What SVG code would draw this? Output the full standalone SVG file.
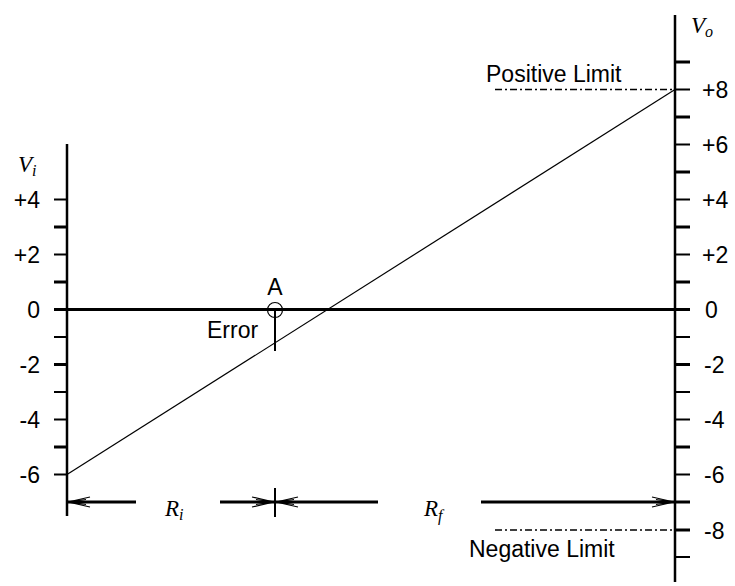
<svg xmlns="http://www.w3.org/2000/svg" xmlns:xlink="http://www.w3.org/1999/xlink" width="735" height="586" viewBox="0 0 735 586">
<style>
.ax{stroke:#000;stroke-width:2.5;fill:none}
.tk{stroke:#000;stroke-width:2;fill:none}
.tkb{stroke:#000;stroke-width:3;fill:none}
.thick{stroke:#000;stroke-width:3;fill:none}
.thin{stroke:#000;stroke-width:1.2;fill:none}
.dash{stroke:#000;stroke-width:1.3;fill:none;stroke-dasharray:7,3,2,3}
.ah{stroke:#000;stroke-width:1.2;fill:none}
.lbl{font-family:"Liberation Sans",Arial,sans-serif;font-size:23px;fill:#000}
.l{text-anchor:end}
.m{font-family:"Liberation Serif","Times New Roman",serif;font-style:italic;font-size:23px;fill:#000}
</style>
<defs>
<path id="ah" d="M-22,-5 L0,0 L-22,5 M-18,-2.5 L-2,0 L-18,2.5"/>
</defs>
<rect width="735" height="586" fill="#fff"/>

<g id="left-axis">
<line class="ax" x1="67" y1="144" x2="67" y2="516"/>
<g>
<line class="tk" x1="54" y1="199.5" x2="67" y2="199.5"/>
<line class="tkb" x1="54" y1="227" x2="67" y2="227"/>
<line class="tk" x1="54" y1="254.5" x2="67" y2="254.5"/>
<line class="tkb" x1="54" y1="282" x2="67" y2="282"/>
<line class="tk" x1="54" y1="337" x2="67" y2="337"/>
<line class="tkb" x1="54" y1="364.5" x2="67" y2="364.5"/>
<line class="tk" x1="54" y1="392" x2="67" y2="392"/>
<line class="tk" x1="54" y1="419.5" x2="67" y2="419.5"/>
<line class="tkb" x1="54" y1="447" x2="67" y2="447"/>
<line class="tk" x1="54" y1="474.5" x2="67" y2="474.5"/>
</g>
<text class="m" x="18" y="172">V<tspan font-size="16" dy="4">i</tspan></text>
<text class="lbl l" x="40" y="208">+4</text>
<text class="lbl l" x="40" y="263">+2</text>
<text class="lbl l" x="40" y="318">0</text>
<text class="lbl l" x="40" y="373">-2</text>
<text class="lbl l" x="40" y="428">-4</text>
<text class="lbl l" x="40" y="483">-6</text>
</g>

<g id="right-axis">
<line class="ax" x1="675" y1="15" x2="675" y2="582"/>
<g>
<line class="tkb" x1="675" y1="62" x2="690" y2="62"/>
<line class="tk" x1="675" y1="89.5" x2="690" y2="89.5"/>
<line class="tkb" x1="675" y1="117" x2="690" y2="117"/>
<line class="tk" x1="675" y1="144.5" x2="690" y2="144.5"/>
<line class="tkb" x1="675" y1="172" x2="690" y2="172"/>
<line class="tk" x1="675" y1="199.5" x2="690" y2="199.5"/>
<line class="tkb" x1="675" y1="227" x2="690" y2="227"/>
<line class="tk" x1="675" y1="254.5" x2="690" y2="254.5"/>
<line class="tkb" x1="675" y1="282" x2="690" y2="282"/>
<line class="tk" x1="675" y1="337" x2="690" y2="337"/>
<line class="tkb" x1="675" y1="364.5" x2="690" y2="364.5"/>
<line class="tk" x1="675" y1="392" x2="690" y2="392"/>
<line class="tk" x1="675" y1="419.5" x2="690" y2="419.5"/>
<line class="tkb" x1="675" y1="447" x2="690" y2="447"/>
<line class="tk" x1="675" y1="474.5" x2="690" y2="474.5"/>
<line class="tkb" x1="675" y1="530" x2="690" y2="530"/>
<line class="tk" x1="675" y1="557" x2="690" y2="557"/>
</g>
<text class="m" x="691" y="33">V<tspan font-size="16" dy="4">o</tspan></text>
<text class="lbl" x="702" y="98">+8</text>
<text class="lbl" x="702" y="153">+6</text>
<text class="lbl" x="702" y="208">+4</text>
<text class="lbl" x="702" y="263">+2</text>
<text class="lbl" x="705" y="318">0</text>
<text class="lbl" x="704" y="373">-2</text>
<text class="lbl" x="704" y="428">-4</text>
<text class="lbl" x="704" y="483">-6</text>
<text class="lbl" x="704" y="538.5">-8</text>
</g>

<g id="zero-line">
<line class="thick" x1="54" y1="309.5" x2="690" y2="309.5"/>
</g>

<g id="transfer-line">
<line class="thin" x1="67" y1="474.5" x2="675" y2="89.5"/>
</g>

<g id="limits">
<line class="dash" x1="495" y1="89.5" x2="675" y2="89.5"/>
<text class="lbl" x="486" y="82">Positive Limit</text>
<line class="dash" x1="495" y1="530" x2="675" y2="530"/>
<text class="lbl" x="469" y="557">Negative Limit</text>
</g>

<g id="point-A">
<circle class="thin" cx="275" cy="310" r="7.5"/>
<text class="lbl" x="275" y="295" text-anchor="middle">A</text>
<line class="tk" x1="275" y1="310" x2="275" y2="351"/>
<text class="lbl" x="207" y="338">Error</text>
</g>

<g id="dimensions">
<line class="thick" x1="67" y1="502" x2="136" y2="502"/>
<line class="thick" x1="220" y1="502" x2="378" y2="502"/>
<line class="thick" x1="481" y1="502" x2="690" y2="502"/>
<line class="tk" x1="275" y1="488" x2="275" y2="517"/>
<use class="ah" xlink:href="#ah" transform="translate(68,502) scale(-1,1)"/>
<use class="ah" xlink:href="#ah" transform="translate(274,502)"/>
<use class="ah" xlink:href="#ah" transform="translate(276,502) scale(-1,1)"/>
<use class="ah" xlink:href="#ah" transform="translate(674,502)"/>
<text class="m" x="165" y="516">R<tspan font-size="16" dy="4">i</tspan></text>
<text class="m" x="424" y="516">R<tspan font-size="16" dy="5">f</tspan></text>
</g>
</svg>
